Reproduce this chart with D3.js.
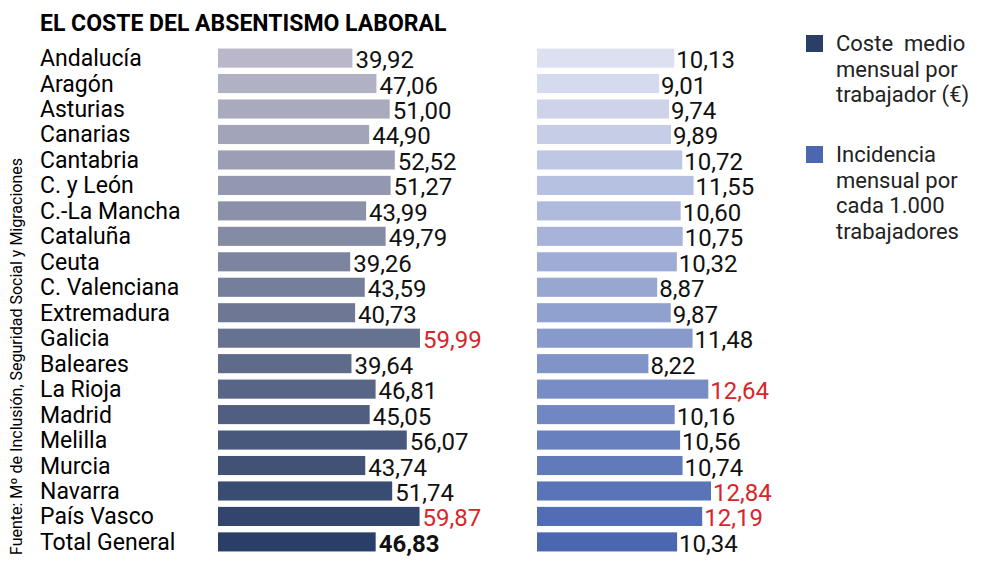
<!DOCTYPE html>
<html><head><meta charset="utf-8">
<script src="https://cdn.jsdelivr.net/npm/d3@7"></script>
<style>body{margin:0;background:#fff}text{font-family:Roboto,"Liberation Sans",sans-serif}</style>
</head><body><svg id="c" width="1000" height="567"></svg>
<script>
// ---------- Data ----------
const regions = ["Andalucía","Aragón","Asturias","Canarias","Cantabria","C. y León","C.-La Mancha","Cataluña","Ceuta","C. Valenciana","Extremadura","Galicia","Baleares","La Rioja","Madrid","Melilla","Murcia","Navarra","País Vasco","Total General"];
const coste = [39.92,47.06,51.00,44.90,52.52,51.27,43.99,49.79,39.26,43.59,40.73,59.99,39.64,46.81,45.05,56.07,43.74,51.74,59.87,46.83];
const incidencia = [10.13,9.01,9.74,9.89,10.72,11.55,10.60,10.75,10.32,8.87,9.87,11.48,8.22,12.64,10.16,10.56,10.74,12.84,12.19,10.34];
const costeRed = ["Galicia","País Vasco"];
const incRed = ["La Rioja","Navarra","País Vasco"];

const svg = d3.select("#c");
const fmt = v => d3.format(".2f")(v).replace(".", ",");

const y = d3.scaleBand().domain(regions).range([46, 554]).paddingInner(0.25).paddingOuter(0.1);
const xL = d3.scaleLinear().domain([0, 60]).range([218, 420]);
const xR = d3.scaleLinear().domain([0, 12.84]).range([537, 711]);
const colL = d3.scaleLinear().domain([0, regions.length - 1]).range(["#b9b7c9", "#2a3f67"]);
const colR = d3.scaleLinear().domain([0, regions.length - 1]).range(["#dde0f1", "#4a67b0"]);

svg.append("text").attr("x", 40).attr("y", 31).attr("font-size", 23).attr("font-weight", 700)
  .text("EL COSTE DEL ABSENTISMO LABORAL");

svg.append("text").attr("transform", "translate(22,555) rotate(-90)").attr("font-size", 16)
  .text("Fuente: Mº de Inclusión, Seguridad Social y Migraciones");

const row = svg.selectAll(".row").data(regions).enter().append("g").attr("class", "row");
row.append("text").attr("x", 40).attr("y", d => y(d) + y.bandwidth() / 2 + 8)
  .attr("font-size", 23).text(d => d);

row.append("rect").attr("x", xL(0)).attr("y", d => y(d))
  .attr("width", (d, i) => xL(coste[i]) - xL(0)).attr("height", y.bandwidth())
  .attr("fill", (d, i) => colL(i));
row.append("text").attr("x", (d, i) => xL(coste[i]) + 3).attr("y", d => y(d) + y.bandwidth() / 2 + 10)
  .attr("font-size", 24)
  .attr("font-weight", d => d === "Total General" ? 700 : 400)
  .attr("fill", d => costeRed.includes(d) ? "#d7262b" : "#111")
  .text((d, i) => fmt(coste[i]));

row.append("rect").attr("x", xR(0)).attr("y", d => y(d))
  .attr("width", (d, i) => xR(incidencia[i]) - xR(0)).attr("height", y.bandwidth())
  .attr("fill", (d, i) => colR(i));
row.append("text").attr("x", (d, i) => xR(incidencia[i]) + 2).attr("y", d => y(d) + y.bandwidth() / 2 + 10)
  .attr("font-size", 24)
  .attr("fill", d => incRed.includes(d) ? "#d7262b" : "#111")
  .text((d, i) => fmt(incidencia[i]));

// ---------- Legend ----------
const legend = [
  {c: "#2a3f67", y: 35, lines: ["Coste  medio", "mensual por", "trabajador (€)"]},
  {c: "#4a67b0", y: 146, lines: ["Incidencia", "mensual por", "cada 1.000", "trabajadores"]}
];
legend.forEach(l => {
  svg.append("rect").attr("x", 806).attr("y", l.y).attr("width", 17).attr("height", 17).attr("fill", l.c);
  l.lines.forEach((t, i) => svg.append("text").attr("x", 836).attr("y", l.y + 16 + i * 25.5)
    .attr("font-size", 22).attr("fill", "#222").style("white-space", "pre").text(t));
});
</script></body></html>
